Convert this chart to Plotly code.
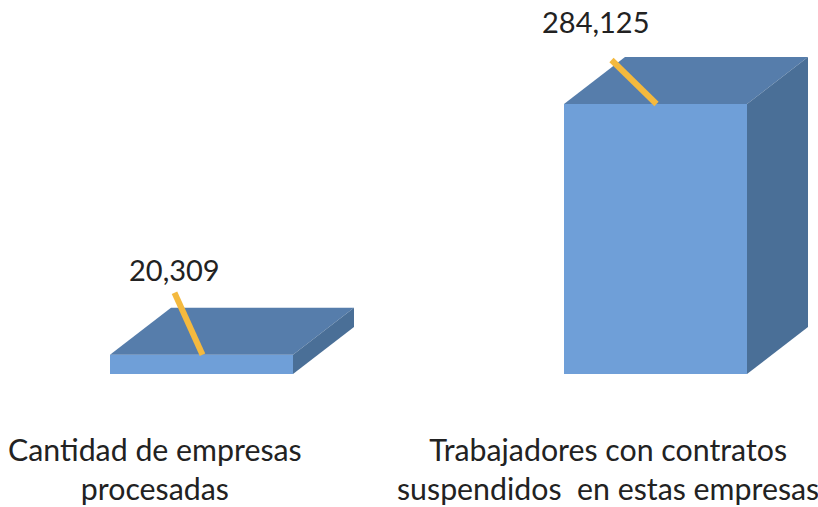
import plotly.graph_objects as go

categories = ["Cantidad de empresas<br>procesadas", "Trabajadores con contratos<br>suspendidos  en estas empresas"]
values = [20309, 284125]
value_labels = ["20,309", "284,125"]

W, H = 818, 507
PX_X = 454.0                # pixels per category step
PX_Y = 270.0 / 284125.0     # pixels per unit of value
BAR_W = 183 / PX_X
DX = 61 / PX_X              # depth of the 3D extrusion
DY = 47 / PX_Y

FRONT, TOP, SIDE, LEADER = "#6F9FD8", "#567DAB", "#4A6F97", "#F4B93E"
FONT = "Lato"
TXT = "#222222"

x_range = [-201.5 / PX_X, (W - 201.5) / PX_X]
y_range = [(374 - H) / PX_Y, 374 / PX_Y]

fig = go.Figure()


def poly(xs, ys, color):
    fig.add_trace(go.Scatter(x=xs, y=ys, mode="lines", fill="toself", fillcolor=color,
                             line=dict(color=color, width=0), hoverinfo="skip", showlegend=False))


fig.add_trace(go.Bar(x=[0, 1], y=values, width=BAR_W, marker=dict(color=FRONT, line=dict(width=0)),
                     showlegend=False, hoverinfo="skip"))

# leader start / end offsets from bar centre and top, in pixels
leaders = [((1, 0), (-27, 62)), ((1, 0), (-44, 44))]
label_off = [(-27, 85), (-60, 83)]
cat_x = [155, 608]

for i, v in enumerate(values):
    l, r = i - BAR_W / 2, i + BAR_W / 2
    poly([l, r, r + DX, l + DX, l], [v, v, v + DY, v + DY, v], TOP)
    poly([r, r + DX, r + DX, r, r], [0, DY, v + DY, v, 0], SIDE)
    (sx, sy), (ex, ey) = leaders[i]
    fig.add_trace(go.Scatter(x=[i + sx / PX_X, i + ex / PX_X], y=[v + sy / PX_Y, v + ey / PX_Y],
                             mode="lines", line=dict(color=LEADER, width=6), hoverinfo="skip", showlegend=False))
    fig.add_annotation(x=i + label_off[i][0] / PX_X, y=v + label_off[i][1] / PX_Y, text=value_labels[i],
                       showarrow=False, font=dict(family=FONT, size=29, color=TXT), xanchor="center", yanchor="middle")
    fig.add_annotation(x=(cat_x[i] - 201.5) / PX_X, y=(374 - 468.5) / PX_Y, text=categories[i],
                       showarrow=False, align="center", font=dict(family=FONT, size=30.3, color=TXT),
                       xanchor="center", yanchor="middle")

fig.update_layout(
    width=W, height=H, margin=dict(l=0, r=0, t=0, b=0),
    paper_bgcolor="white", plot_bgcolor="white", showlegend=False,
    xaxis=dict(range=x_range, visible=False, fixedrange=True),
    yaxis=dict(range=y_range, visible=False, fixedrange=True),
)
post = ("document.body.style.margin='0';document.body.style.overflow='hidden';"
        "var s=document.createElement('style');s.textContent='text{font-variant-ligatures:none}';"
        "document.head.appendChild(s);")
fig.write_html("out.html", config={"displayModeBar": False}, post_script=post)
